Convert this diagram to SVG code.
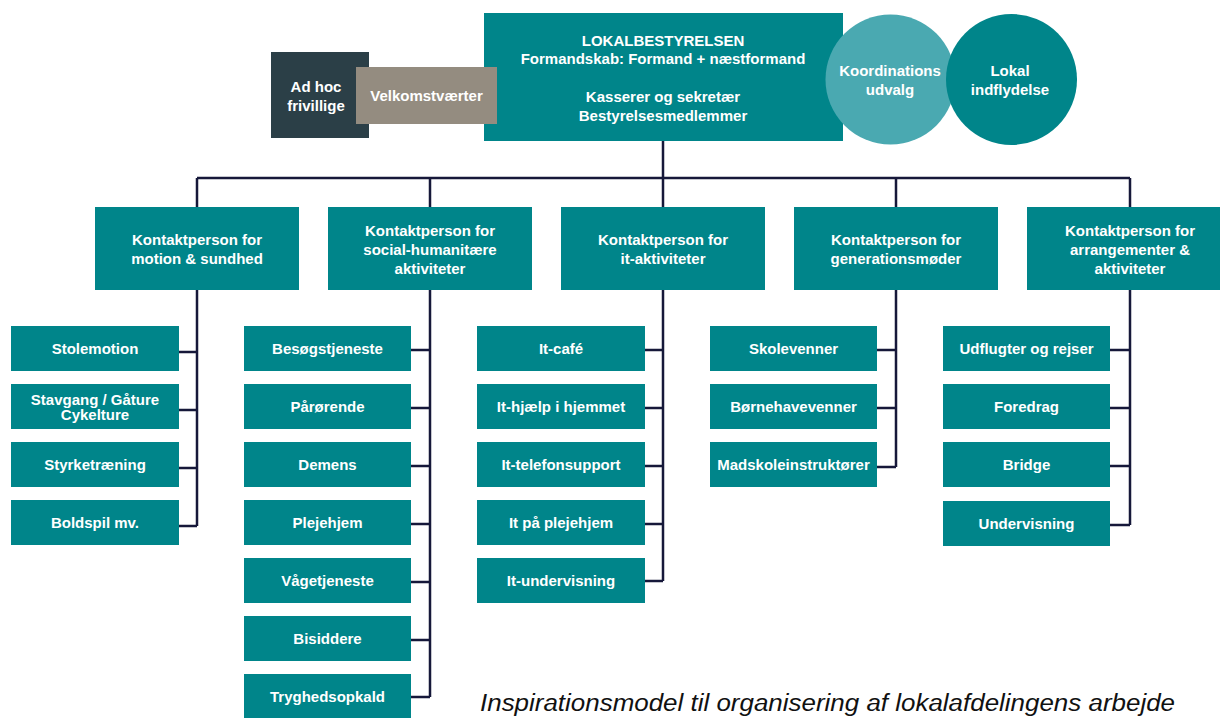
<svg xmlns="http://www.w3.org/2000/svg" width="1220" height="718" viewBox="0 0 1220 718">
<style>
.box{fill:#00858A}
.t{font-family:"Liberation Sans",Arial,sans-serif;font-weight:bold;font-size:15px;fill:#fff;text-anchor:middle}
.ln{stroke:#16183A;stroke-width:2.5;fill:none}
.cap{font-family:"Liberation Sans",Arial,sans-serif;font-style:italic;font-size:23px;fill:#111}
</style>
<rect width="1220" height="718" fill="#fff"/>
<g id="connectors" class="ln">
<path d="M663 141V178M197 178H1130M197 178V207M430 178V207M663 178V207M896 178V207M1130 178V207"/>
<path d="M197 290V526M179 352H197M179 410H197M179 468H197M179 526H197"/>
<path d="M430 290V697M411 350H430M411 408H430M411 466H430M411 524H430M411 582H430M411 640H430M411 697H430"/>
<path d="M663 290V581M645 350H663M645 408H663M645 466H663M645 524H663M645 581H663"/>
<path d="M896 290V467M877 350H896M877 408H896M877 467H896"/>
<path d="M1130 290V525M1110 350H1130M1110 408H1130M1110 466H1130M1110 525H1130"/>
</g>
<g id="lokalbestyrelsen"><rect class="box" x="484" y="13" width="359" height="128"/>
<text class="t" x="663" y="46">LOKALBESTYRELSEN</text><text class="t" x="663" y="64">Formandskab: Formand + næstformand</text>
<text class="t" x="663" y="102">Kasserer og sekretær</text><text class="t" x="663" y="121">Bestyrelsesmedlemmer</text></g>
<g id="adhoc"><rect x="271" y="52" width="98" height="86" fill="#2B3F47"/>
<text class="t" x="316" y="92">Ad hoc</text><text class="t" x="316" y="111">frivillige</text></g>
<g id="velkomst"><rect x="356" y="67" width="141" height="57" fill="#948C80"/>
<text class="t" x="426.5" y="101">Velkomstværter</text></g>
<g id="koordination"><circle cx="890.5" cy="79.5" r="65" fill="#4AA9B1"/>
<text class="t" x="890" y="76">Koordinations</text><text class="t" x="890" y="95">udvalg</text></g>
<g id="lokal"><circle cx="1011.5" cy="79.5" r="65.5" fill="#00858A"/>
<text class="t" x="1010" y="76">Lokal</text><text class="t" x="1010" y="95">indflydelse</text></g>

<g id="k1"><rect class="box" x="95" y="207" width="204" height="83"/><text class="t" x="197" y="245">Kontaktperson for</text><text class="t" x="197" y="264">motion &amp; sundhed</text></g>
<g id="k2"><rect class="box" x="328" y="207" width="204" height="83"/><text class="t" x="430" y="236">Kontaktperson for</text><text class="t" x="430" y="255">social-humanitære</text><text class="t" x="430" y="274">aktiviteter</text></g>
<g id="k3"><rect class="box" x="561" y="207" width="204" height="83"/><text class="t" x="663" y="245">Kontaktperson for</text><text class="t" x="663" y="264">it-aktiviteter</text></g>
<g id="k4"><rect class="box" x="794" y="207" width="204" height="83"/><text class="t" x="896" y="245">Kontaktperson for</text><text class="t" x="896" y="264">generationsmøder</text></g>
<g id="k5"><rect class="box" x="1027" y="207" width="206" height="83"/><text class="t" x="1130" y="236">Kontaktperson for</text><text class="t" x="1130" y="255">arrangementer &amp;</text><text class="t" x="1130" y="274">aktiviteter</text></g>

<g id="c1a"><rect class="box" x="11" y="326" width="168" height="45"/><text class="t" x="95" y="354">Stolemotion</text></g>
<g id="c1b"><rect class="box" x="11" y="384" width="168" height="45"/><text class="t" x="95" y="405">Stavgang / Gåture</text><text class="t" x="95" y="420">Cykelture</text></g>
<g id="c1c"><rect class="box" x="11" y="442" width="168" height="45"/><text class="t" x="95" y="470">Styrketræning</text></g>
<g id="c1d"><rect class="box" x="11" y="500" width="168" height="45"/><text class="t" x="95" y="528">Boldspil mv.</text></g>

<g id="c2a"><rect class="box" x="244" y="326" width="167" height="45"/><text class="t" x="327.5" y="354">Besøgstjeneste</text></g>
<g id="c2b"><rect class="box" x="244" y="384" width="167" height="45"/><text class="t" x="327.5" y="412">Pårørende</text></g>
<g id="c2c"><rect class="box" x="244" y="442" width="167" height="45"/><text class="t" x="327.5" y="470">Demens</text></g>
<g id="c2d"><rect class="box" x="244" y="500" width="167" height="45"/><text class="t" x="327.5" y="528">Plejehjem</text></g>
<g id="c2e"><rect class="box" x="244" y="558" width="167" height="45"/><text class="t" x="327.5" y="586">Vågetjeneste</text></g>
<g id="c2f"><rect class="box" x="244" y="616" width="167" height="45"/><text class="t" x="327.5" y="644">Bisiddere</text></g>
<g id="c2g"><rect class="box" x="244" y="674" width="167" height="45"/><text class="t" x="327.5" y="702">Tryghedsopkald</text></g>

<g id="c3a"><rect class="box" x="477" y="326" width="168" height="45"/><text class="t" x="561" y="354">It-café</text></g>
<g id="c3b"><rect class="box" x="477" y="384" width="168" height="45"/><text class="t" x="561" y="412">It-hjælp i hjemmet</text></g>
<g id="c3c"><rect class="box" x="477" y="442" width="168" height="45"/><text class="t" x="561" y="470">It-telefonsupport</text></g>
<g id="c3d"><rect class="box" x="477" y="500" width="168" height="45"/><text class="t" x="561" y="528">It på plejehjem</text></g>
<g id="c3e"><rect class="box" x="477" y="558" width="168" height="45"/><text class="t" x="561" y="586">It-undervisning</text></g>

<g id="c4a"><rect class="box" x="710" y="326" width="167" height="45"/><text class="t" x="793.5" y="354">Skolevenner</text></g>
<g id="c4b"><rect class="box" x="710" y="384" width="167" height="45"/><text class="t" x="793.5" y="412">Børnehavevenner</text></g>
<g id="c4c"><rect class="box" x="710" y="442" width="167" height="45"/><text class="t" x="793.5" y="470">Madskoleinstruktører</text></g>

<g id="c5a"><rect class="box" x="943" y="326" width="167" height="45"/><text class="t" x="1026.5" y="354">Udflugter og rejser</text></g>
<g id="c5b"><rect class="box" x="943" y="384" width="167" height="45"/><text class="t" x="1026.5" y="412">Foredrag</text></g>
<g id="c5c"><rect class="box" x="943" y="442" width="167" height="45"/><text class="t" x="1026.5" y="470">Bridge</text></g>
<g id="c5d"><rect class="box" x="943" y="501" width="167" height="45"/><text class="t" x="1026.5" y="529">Undervisning</text></g>

<text class="cap" x="480" y="711" textLength="695" lengthAdjust="spacingAndGlyphs">Inspirationsmodel til organisering af lokalafdelingens arbejde</text>
</svg>
